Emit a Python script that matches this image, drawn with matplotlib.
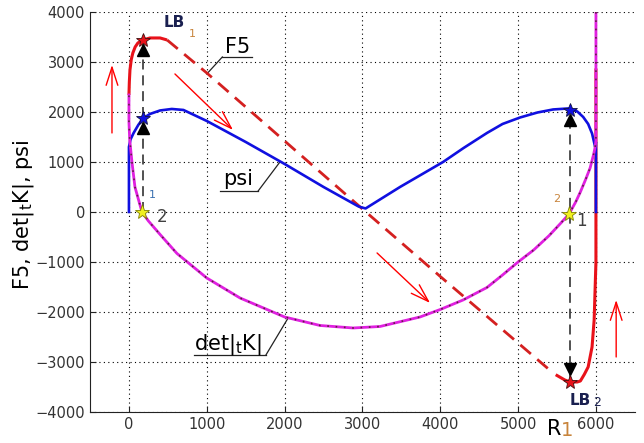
import matplotlib
matplotlib.use("Agg")
import matplotlib.pyplot as plt

plt.rcParams['font.family'] = ['DejaVu Sans']
plt.rcParams['mathtext.fontset'] = 'dejavusans'

# ---------------- data ----------------
# F5 curve: left solid part, dashed (unstable) part, right solid part
f5_left_r1 = [0, 5, 13, 30, 50, 80, 115, 180, 270, 400, 490]
f5_left_v = [2340, 2600, 2840, 3050, 3180, 3300, 3380, 3440, 3480, 3480, 3440]
f5_dash_r1 = [490, 1000, 2000, 3000, 4000, 5000, 5420]
f5_dash_v = [3440, 2780, 1420, 60, -1290, -2620, -3180]
f5_right_r1 = [5500, 5600, 5668, 5760, 5800, 5850, 5900, 5950, 5977, 5990, 6000, 6000]
f5_right_v = [-3270, -3360, -3400, -3400, -3380, -3250, -3100, -2700, -2160, -1500, -1000, 2840]

# psi curve
psi_r1 = [0, 0, 20, 60, 120, 180, 270, 400, 550, 700, 1000, 1500, 2000, 2500, 2950,
          3040, 3483, 4036, 4300, 4600, 4800, 5026, 5250, 5450, 5643, 5760, 5836, 5900,
          5950, 5990, 6000, 6000]
psi_v = [0, 1300, 1450, 1580, 1740, 1870, 1960, 2030, 2060, 2040, 1820, 1400, 960, 500, 110,
         70, 500, 1000, 1280, 1580, 1760, 1890, 1990, 2050, 2070, 2010, 1900, 1760,
         1570, 1300, 1400, 0]

# det|tK| curve
det_r1 = [6000, 6000, 5990, 5970, 5925, 5870, 5800, 5740, 5655, 5550, 5400, 5200, 5000,
          4800, 4600, 4293, 4000, 3740, 3226, 2880, 2455, 2000, 1427, 1000, 617, 400,
          250, 167, 77, 40, 10, 0, 0]
det_v = [4000, 1440, 1300, 1150, 880, 660, 400, 200, -40, -220, -470, -760, -1000,
         -1260, -1510, -1760, -1950, -2100, -2290, -2320, -2270, -2100, -1720, -1320, -830,
         -450, -180, 0, 500, 980, 1440, 1800, 2340]

# limit points
lb_r1 = [180, 5668]
lb_f5 = [3440, -3400]
lb_psi = [1880, 2040]
bif_r1 = [167, 5655]
bif_v = [0, -40]

x_ticks = [0, 1000, 2000, 3000, 4000, 5000, 6000]
y_ticks = [-4000, -3000, -2000, -1000, 0, 1000, 2000, 3000, 4000]

# ---------------- figure ----------------
fig = plt.figure(figsize=(6.44, 4.43), dpi=100)
ax = fig.add_axes([0.1398, 0.070, 0.846, 0.903])
ax.set_xlim(-500, 6500)
ax.set_ylim(-4000, 4000)
ax.set_xticks(x_ticks)
ax.set_yticks(y_ticks)
ax.tick_params(direction='in', length=4, labelsize=10.5, labelcolor='#333333', color='#222222')
for s in ['top', 'right']:
    ax.spines[s].set_visible(False)
for s in ['left', 'bottom']:
    ax.spines[s].set_color('#222222')
ax.grid(True, color='black', linestyle=(0, (1, 3)), linewidth=0.8)
ax.set_axisbelow(True)

red = '#e8121a'
# F5
ax.plot(f5_left_r1, f5_left_v, color=red, lw=2.2, zorder=3, solid_capstyle='butt')
ax.plot(f5_dash_r1, f5_dash_v, color='#d42020', lw=2.0, linestyle=(0, (5, 3)), zorder=3)
ax.plot(f5_right_r1, f5_right_v, color=red, lw=2.2, zorder=3)
# psi
ax.plot(psi_r1, psi_v, color='#1010e0', lw=1.9, zorder=4)
# det
ax.plot(det_r1, det_v, color='#e020e0', lw=2.0, zorder=5)
ax.plot(det_r1, det_v, color='#602040', lw=1.2, linestyle=(0, (1, 4)), zorder=6)

# dashed black connectors with arrowheads
ax.plot([lb_r1[0], lb_r1[0]], [bif_v[0], lb_f5[0]], color='#333333', lw=1.2,
        linestyle=(0, (6, 3.5)), zorder=7)
ax.plot([lb_r1[1], lb_r1[1]], [lb_f5[1], lb_psi[1]], color='#333333', lw=1.2,
        linestyle=(0, (6, 3.5)), zorder=7)
ax.plot([lb_r1[0], lb_r1[0], lb_r1[1]], [lb_f5[0] - 200, lb_psi[0] - 200, lb_psi[1] - 200],
        linestyle='none', marker='^', color='black', markersize=8, zorder=8)
ax.plot([lb_r1[1]], [lb_f5[1] + 250], linestyle='none', marker='v', color='black',
        markersize=8, zorder=8)

# stars
ax.plot(lb_r1, lb_f5, linestyle='none', marker='*', markersize=10, markerfacecolor=red,
        markeredgecolor='#401010', markeredgewidth=0.6, zorder=9)
ax.plot(lb_r1, lb_psi, linestyle='none', marker='*', markersize=10, markerfacecolor='#1010e0',
        markeredgecolor='#101040', markeredgewidth=0.6, zorder=9)
ax.plot(bif_r1, bif_v, linestyle='none', marker='*', markersize=11, markerfacecolor='#f0f020',
        markeredgecolor='#808000', markeredgewidth=0.6, zorder=9)

# red direction arrows
arr = dict(arrowstyle='->,head_length=1.3,head_width=0.42', color='red', lw=1.0,
           shrinkA=0, shrinkB=0)
ax.annotate('', xy=(-218, 2940), xytext=(-218, 1580), arrowprops=arr)
ax.annotate('', xy=(6260, -1760), xytext=(6260, -2900), arrowprops=arr)
ax.annotate('', xy=(1337, 1640), xytext=(591, 2760), arrowprops=arr)
ax.annotate('', xy=(3869, -1820), xytext=(3188, -820), arrowprops=arr)

# curve labels with leader lines
lab = dict(fontsize=15, color='black', zorder=10)
ax.text(1390, 3170, 'F5', ha='center', va='baseline', **lab)
ax.plot([1200, 1580], [3100, 3100], color='#222222', lw=0.9)
ax.plot([1200, 1000], [3100, 2760], color='#222222', lw=0.9)

ax.text(1400, 540, 'psi', ha='center', va='baseline', **lab)
ax.plot([1170, 1660], [420, 420], color='#222222', lw=0.9)
ax.plot([1660, 1940], [420, 1000], color='#222222', lw=0.9)

ax.text(1270, -2760, r'det$|_{\rm t}$K$|$', ha='center', va='baseline', **lab)
ax.plot([830, 1760], [-2860, -2860], color='#222222', lw=0.9)
ax.plot([1760, 2045], [-2860, -2120], color='#222222', lw=0.9)

# LB labels
navy = '#1a2050'
sub = '#c8843c'
ax.text(580, 3780, 'LB', fontsize=11, fontweight='bold', color=navy, ha='center', va='center', zorder=10)
ax.text(820, 3560, '1', fontsize=8, color=sub, ha='center', va='center', zorder=10)
ax.text(5800, -3780, 'LB', fontsize=11, fontweight='bold', color=navy, ha='center', va='center', zorder=10)
ax.text(6020, -3820, '2', fontsize=9, color=navy, ha='center', va='center', zorder=10)

# bifurcation labels
ax.text(300, 340, '1', fontsize=8, color='#3a70b0', ha='center', va='center', zorder=10)
ax.text(420, -110, '2', fontsize=12, color='#404040', ha='center', va='center', zorder=10)
ax.text(5500, 260, '2', fontsize=8, color=sub, ha='center', va='center', zorder=10)
ax.text(5820, -180, '1', fontsize=12, color='#404040', ha='center', va='center', zorder=10)

# axis labels
fig.text(0.037, 0.515, r'F5, det$|_{\rm t}$K$|$, psi', rotation=90, fontsize=15,
         ha='center', va='center', color='black')
fig.text(0.860, 0.032, 'R', fontsize=15, ha='center', va='center', color='black')
fig.text(0.880, 0.028, '1', fontsize=14, ha='center', va='center', color=sub)

fig.savefig('out.png', dpi=100)
